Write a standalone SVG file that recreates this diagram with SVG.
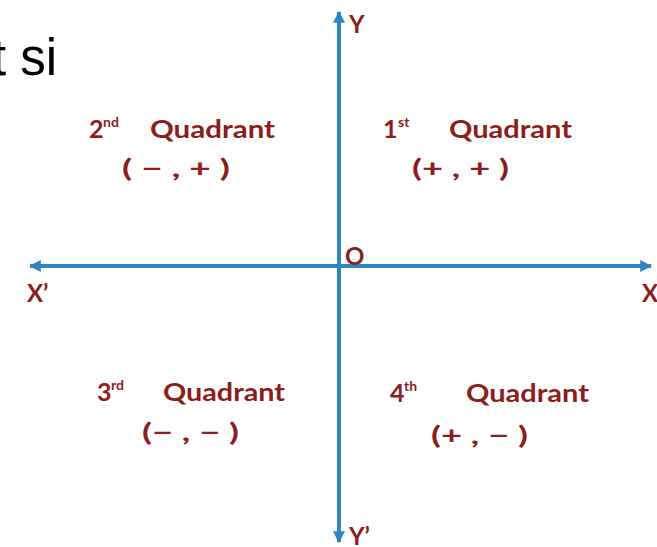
<svg xmlns="http://www.w3.org/2000/svg" width="657" height="547" viewBox="0 0 657 547">
<style>
.lbl{font-family:Lato,"Open Sans","DejaVu Sans",sans-serif;font-weight:700;fill:#8b1d1d}
.q{font-size:25px}
.sup{font-size:14px}
.sign{font-size:25px}
.ax{font-size:24px}
.axis{stroke:#2f86bd;stroke-width:4;fill:none}
</style>
<defs>
<marker id="ah" viewBox="0 0 10 10" refX="9" refY="5" markerWidth="3" markerHeight="3" orient="auto" markerUnits="strokeWidth">
<path d="M0,0 L10,5 L0,10 Z" fill="#2f86bd"/>
</marker>
</defs>
<rect width="657" height="547" fill="#ffffff"/>
<text x="-8" y="75" style="font-family:'Liberation Sans',Arial,sans-serif;font-size:51px;fill:#000">t si</text>
<g id="connectors">
<line class="axis" x1="339" y1="274" x2="339" y2="12" marker-end="url(#ah)"/>
<line class="axis" x1="339" y1="258" x2="339" y2="542" marker-end="url(#ah)"/>
<line class="axis" x1="340" y1="266" x2="651" y2="266" marker-end="url(#ah)"/>
<line class="axis" x1="338" y1="266" x2="30" y2="266" marker-end="url(#ah)"/>
</g>
<g id="axis-labels">
<text class="lbl ax" x="349" y="33">Y</text>
<text class="lbl ax" x="349" y="545">Y’</text>
<text class="lbl ax" x="27" y="302">X’</text>
<text class="lbl ax" x="642" y="302">X</text>
<text class="lbl ax" x="345" y="265">O</text>
</g>
<g id="q2">
<text class="lbl q" x="89" y="138">2</text>
<text class="lbl sup" x="103" y="127">nd</text>
<text class="lbl q" x="150" y="138" textLength="125" lengthAdjust="spacingAndGlyphs">Quadrant</text>
<text class="lbl sign" x="122" y="177" textLength="108" lengthAdjust="spacingAndGlyphs">( − , + )</text>
</g>
<g id="q1">
<text class="lbl q" x="383" y="138">1</text>
<text class="lbl sup" x="398" y="127">st</text>
<text class="lbl q" x="449" y="138" textLength="123" lengthAdjust="spacingAndGlyphs">Quadrant</text>
<text class="lbl sign" x="412" y="177" textLength="97" lengthAdjust="spacingAndGlyphs">(+ , + )</text>
</g>
<g id="q3">
<text class="lbl q" x="97" y="401">3</text>
<text class="lbl sup" x="111" y="390">rd</text>
<text class="lbl q" x="163" y="401" textLength="122" lengthAdjust="spacingAndGlyphs">Quadrant</text>
<text class="lbl sign" x="142" y="441" textLength="97" lengthAdjust="spacingAndGlyphs">(− , − )</text>
</g>
<g id="q4">
<text class="lbl q" x="390" y="402">4</text>
<text class="lbl sup" x="404" y="391">th</text>
<text class="lbl q" x="466" y="402" textLength="123" lengthAdjust="spacingAndGlyphs">Quadrant</text>
<text class="lbl sign" x="431" y="444" textLength="97" lengthAdjust="spacingAndGlyphs">(+ , − )</text>
</g>
</svg>
